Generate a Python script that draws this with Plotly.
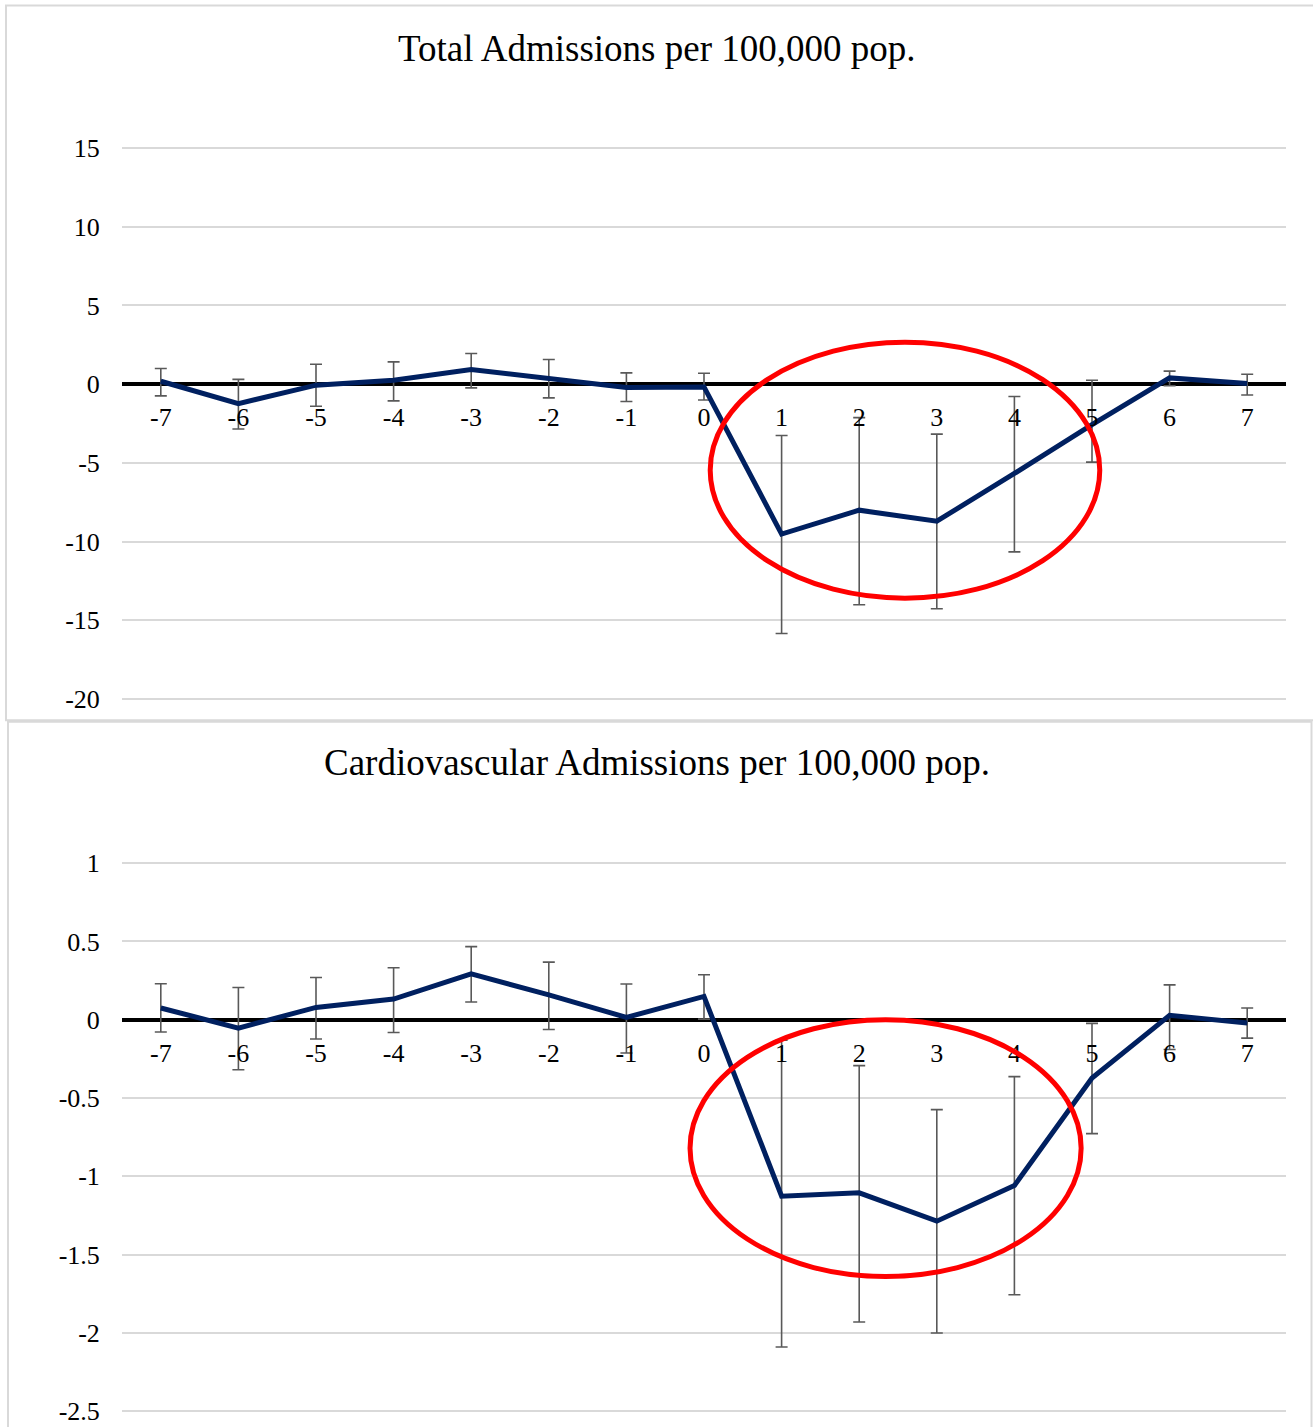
import plotly.graph_objects as go

# ---------------- data ----------------
periods = [-7, -6, -5, -4, -3, -2, -1, 0, 1, 2, 3, 4, 5, 6, 7]
period_labels = [str(p) for p in periods]

total = [0.19, -1.23, -0.06, 0.25, 0.93, 0.36, -0.21, -0.17, -9.52, -8.0, -8.70, -5.67, -2.56, 0.40, 0.04]
total_hi = [1.0, 0.31, 1.27, 1.42, 1.95, 1.57, 0.72, 0.70, -3.26, -2.12, -3.17, -0.78, 0.25, 0.83, 0.63]
total_lo = [-0.74, -2.84, -1.4, -1.06, -0.23, -0.87, -1.1, -1.0, -15.83, -14.01, -14.26, -10.65, -4.95, -0.1, -0.68]

cardio = [0.075, -0.053, 0.079, 0.132, 0.293, 0.159, 0.015, 0.149, -1.127, -1.105, -1.286, -1.059, -0.372, 0.028, -0.021]
cardio_hi = [0.23, 0.206, 0.27, 0.332, 0.467, 0.368, 0.228, 0.287, -0.13, -0.293, -0.574, -0.363, -0.023, 0.223, 0.075]
cardio_lo = [-0.078, -0.319, -0.123, -0.081, 0.113, -0.062, -0.212, 0.004, -2.09, -1.93, -2.0, -1.756, -0.727, -0.19, -0.117]

total_ticks = [15, 10, 5, 0, -5, -10, -15, -20]
cardio_ticks = [1, 0.5, 0, -0.5, -1, -1.5, -2, -2.5]

title_top = "Total Admissions per 100,000 pop."
title_bot = "Cardiovascular Admissions per 100,000 pop."

# ---------------- styling ----------------
W, H = 1313, 1427
FONT = "Liberation Serif"
LINE = "#002060"
ERR = "#595959"
GRID = "#d9d9d9"

# vertical calibration of the page photograph (measured)
Y_OFF, Y_SCALE = 9.0, 0.9865


def py(px):
    return 1 - ((px - Y_OFF) / Y_SCALE) / H


def px_x(px):
    return px / W


fig = go.Figure()


def add_series(vals, hi, lo, xa, ya):
    fig.add_trace(go.Scatter(
        x=periods, y=vals, mode="lines", xaxis=xa, yaxis=ya,
        line=dict(color=LINE, width=5),
        error_y=dict(type="data", symmetric=False,
                     array=[h - v for h, v in zip(hi, vals)],
                     arrayminus=[v - l for l, v in zip(lo, vals)],
                     color=ERR, thickness=1.6, width=6),
        showlegend=False, hoverinfo="x+y",
    ))


add_series(total, total_hi, total_lo, "x", "y")
add_series(cardio, cardio_hi, cardio_lo, "x2", "y2")

xdom = [px_x(122), px_x(1286)]

common_x = dict(
    range=[-7.5, 7.5], domain=xdom, tickmode="array",
    tickvals=periods, ticktext=period_labels,
    showgrid=False, zeroline=False, showline=False,
    ticks="outside", ticklen=10, tickcolor="rgba(0,0,0,0)",
    tickfont=dict(family=FONT, size=26, color="#000"),
    anchor="free",
)
common_y = dict(
    showgrid=True, gridcolor=GRID, gridwidth=2,
    zeroline=True, zerolinecolor="#000", zerolinewidth=4,
    showline=False, ticks="outside", ticklen=17, tickcolor="rgba(0,0,0,0)",
    tickfont=dict(family=FONT, size=26, color="#000"),
    anchor="free", position=xdom[0],
)

fig.update_layout(
    width=W, height=H, margin=dict(l=0, r=0, t=0, b=0),
    paper_bgcolor="white", plot_bgcolor="white",
    xaxis=dict(common_x, position=py(384)),
    yaxis=dict(common_y, range=[-20.3, 15.3], domain=[py(703.7), py(143.3)],
               tickvals=total_ticks, ticktext=[str(t) for t in total_ticks]),
    xaxis2=dict(common_x, position=py(1020)),
    yaxis2=dict(common_y, range=[-2.53, 1.03], domain=[max(py(1415.7), 0), py(858.3)],
                tickvals=cardio_ticks, ticktext=[str(t) for t in cardio_ticks]),
)

# panel borders
fig.add_shape(type="rect", xref="paper", yref="paper",
              x0=px_x(6), x1=1.01, y0=py(720), y1=py(5.5),
              line=dict(color=GRID, width=2), layer="below")
fig.add_shape(type="rect", xref="paper", yref="paper",
              x0=px_x(8), x1=px_x(1311.5), y0=-0.02, y1=py(721.5),
              line=dict(color=GRID, width=2), layer="below")

# titles
fig.add_annotation(text=title_top, xref="paper", yref="paper", x=0.5, y=py(48),
                   showarrow=False, font=dict(family=FONT, size=37, color="#000"),
                   xanchor="center", yanchor="middle")
fig.add_annotation(text=title_bot, xref="paper", yref="paper", x=0.5, y=py(762),
                   showarrow=False, font=dict(family=FONT, size=37, color="#000"),
                   xanchor="center", yanchor="middle")

# highlight ellipses
fig.add_shape(type="circle", xref="x", yref="y", x0=0.08, x1=5.1, y0=-13.59, y1=2.67,
              line=dict(color="#ff0000", width=5))
fig.add_shape(type="circle", xref="x2", yref="y2", x0=-0.18, x1=4.86, y0=-1.64, y1=0.0,
              line=dict(color="#ff0000", width=5))

fig.write_html(
    "out.html",
    config={"displayModeBar": False},
    post_script=(
        "document.body.style.margin='0';"
        "document.documentElement.style.overflow='hidden';"
        "document.body.style.overflow='hidden';"
        "var gd=document.getElementById('{plot_id}');"
        "gd.style.position='absolute';gd.style.top='0px';gd.style.left='0px';"
    ),
)
